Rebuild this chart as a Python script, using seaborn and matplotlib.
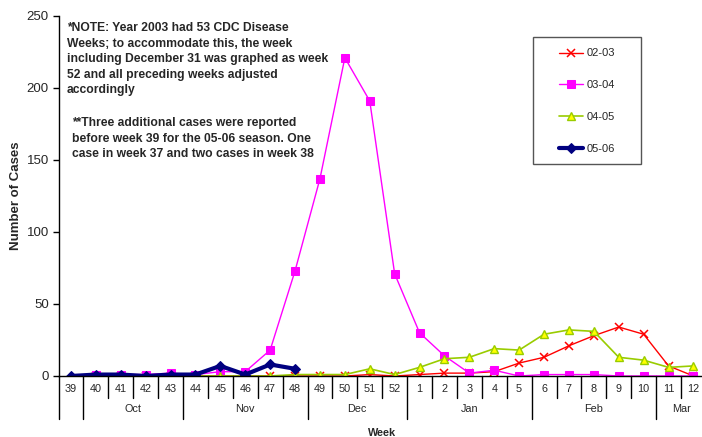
import numpy as np
import pandas as pd
import matplotlib
matplotlib.use("Agg")
import matplotlib.pyplot as plt
import matplotlib.transforms as mtransforms
from matplotlib.patches import Rectangle
import seaborn as sns

weeks = [39, 40, 41, 42, 43, 44, 45, 46, 47, 48, 49, 50, 51, 52,
         1, 2, 3, 4, 5, 6, 7, 8, 9, 10, 11, 12]
months = ['', 'Oct', 'Oct', 'Oct', 'Oct', 'Nov', 'Nov', 'Nov', 'Nov', 'Nov',
          'Dec', 'Dec', 'Dec', 'Dec', 'Jan', 'Jan', 'Jan', 'Jan', 'Jan',
          'Feb', 'Feb', 'Feb', 'Feb', 'Feb', 'Mar', 'Mar']

nan = np.nan
s_0203 = [nan, 0, 0, 0, 0, 0, 0, 0, 0, 0, 0, 0, 1, 0,
          1, 2, 2, 3, 9, 13, 21, 28, 34, 29, 7, 0]
s_0304 = [nan, 1, 1, 1, 2, 1, 3, 3, 18, 73, 137, 221, 191, 71,
          30, 14, 2, 4, 0, 1, 1, 1, 0, 0, 0, 0]
s_0405 = [nan, 0, 0, 0, 0, 0, 0, 0, 0, 1, 1, 1, 5, 1,
          6, 12, 13, 19, 18, 29, 32, 31, 13, 11, 6, 7]
s_0506 = [0, 1, 1, 0, 1, 1, 7, 1, 8, 5, nan, nan, nan, nan,
          nan, nan, nan, nan, nan, nan, nan, nan, nan, nan, nan, nan]

seasons = ['02-03', '03-04', '04-05', '05-06']
values = [s_0203, s_0304, s_0405, s_0506]

sns.set_style("white")
plt.rcParams['font.family'] = ['Liberation Sans', 'DejaVu Sans']

W, H = 702, 437
fig = plt.figure(figsize=(W / 100, H / 100), dpi=100)
ax = fig.add_axes([58.5 / W, 1 - 376 / H, 647.4 / W, 360 / H])

pos = np.arange(len(weeks))
styles = {
    '02-03': dict(color='#FF0000', marker='x', markersize=5.5, linewidth=1.0,
                  markeredgecolor='#FF0000', markeredgewidth=1.1),
    '03-04': dict(color='#FF00FF', marker='s', markersize=5.2, linewidth=1.0,
                  markeredgecolor='#FF00FF'),
    '04-05': dict(color='#99CC00', marker='^', markersize=5.5, linewidth=1.2,
                  markerfacecolor='#FFFF00', markeredgecolor='#99CC00',
                  markeredgewidth=1.0),
    '05-06': dict(color='#000080', marker='D', markersize=5.5, linewidth=3.0,
                  markeredgecolor='#000080'),
}

for name, vals in zip(seasons, values):
    df = pd.DataFrame({'pos': pos, 'cases': vals}).dropna()
    sns.lineplot(data=df, x='pos', y='cases', ax=ax, label=name, **styles[name])

ax.set_xlim(-0.5, len(weeks) - 0.5)
ax.set_ylim(0, 250)
ax.set_yticks(np.arange(0, 251, 50))
ax.tick_params(axis='y', labelsize=9.5, length=4, width=1, direction='out',
               left=True, pad=3, color='black')
ax.set_xticks(pos)
ax.set_xticklabels([str(w) for w in weeks], fontsize=7.8)
ax.tick_params(axis='x', length=0, pad=6)

for side in ['top', 'right']:
    ax.spines[side].set_visible(False)
ax.spines['left'].set_color('black')
ax.spines['bottom'].set_color('black')
ax.spines['left'].set_linewidth(1)
ax.spines['bottom'].set_linewidth(1)

trans = mtransforms.blended_transform_factory(ax.transData, ax.transAxes)
short_d = -22 / 360
long_d = -43 / 360
# week separators and month separators
for i in range(len(weeks) + 1):
    b = i - 0.5
    is_month = i == 0 or i == len(weeks) or months[i] != months[i - 1]
    ax.plot([b, b], [0, long_d if is_month else short_d], color='black',
            linewidth=1, transform=trans, clip_on=False)

# month labels centred over their groups
start = 0
for i in range(1, len(weeks) + 1):
    if i == len(weeks) or months[i] != months[start]:
        if months[start]:
            ax.text((start + i - 1) / 2, -33 / 360, months[start], transform=trans,
                    ha='center', va='center', fontsize=7.8)
        start = i

ax.set_xlabel('')
ax.set_ylabel('Number of Cases', fontsize=9.5, fontweight='bold')
ax.yaxis.set_label_coords((22 - 58.5) / 647.4, 0.5)
fig.text(382 / W, 1 - 433 / H, 'Week', ha='center', va='center',
         fontsize=7.8, fontweight='bold')

note1 = ("*NOTE: Year 2003 had 53 CDC Disease\n"
         "Weeks; to accommodate this, the week\n"
         "including December 31 was graphed as week\n"
         "52 and all preceding weeks adjusted\n"
         "accordingly")
note2 = ("**Three additional cases were reported\n"
         "before week 39 for the 05-06 season. One\n"
         "case in week 37 and two cases in week 38")
fig.text(67 / W, 1 - 22 / H, note1, ha='left', va='top', fontsize=8.75,
         fontweight='bold', linespacing=1.39)
fig.text(72 / W, 1 - 117 / H, note2, ha='left', va='top', fontsize=8.75,
         fontweight='bold', linespacing=1.39)

leg = ax.legend(loc='center', bbox_to_anchor=(587 / W, 1 - 101 / H),
                bbox_transform=fig.transFigure, frameon=False, fontsize=8,
                handlelength=2.2, handletextpad=0.3, labelspacing=1.95,
                borderpad=0)
fig.patches.append(Rectangle((533 / W, 1 - 164 / H), 108 / W, 127 / H,
                             transform=fig.transFigure, fill=False,
                             edgecolor='#555555', linewidth=1))

fig.savefig('out.png', dpi=100)
